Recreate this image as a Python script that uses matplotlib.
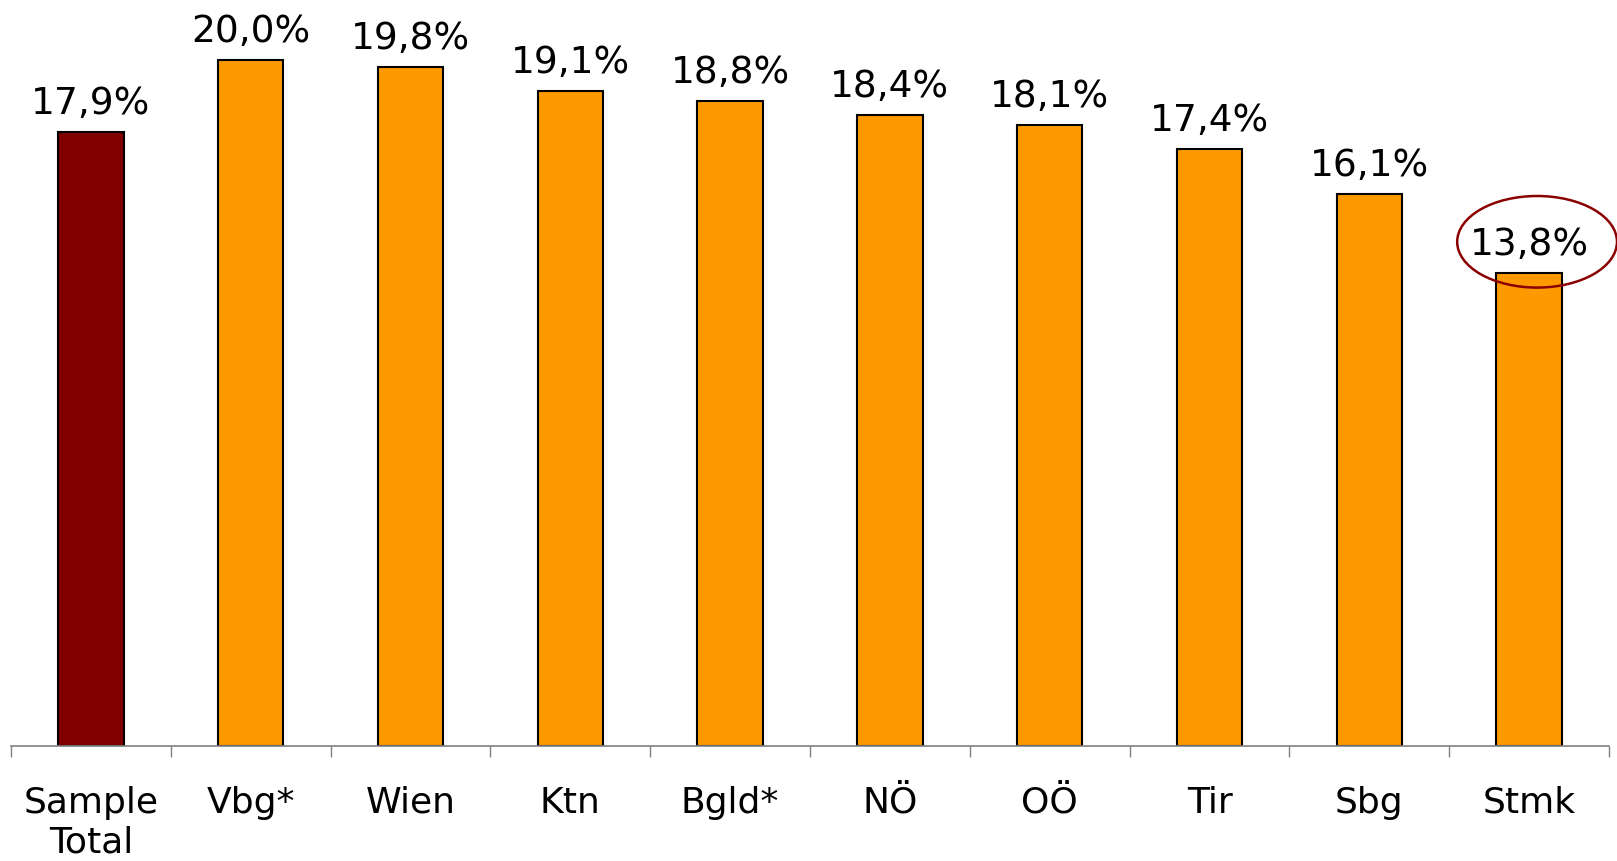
import matplotlib
matplotlib.use("Agg")
import matplotlib.pyplot as plt
from matplotlib.patches import Ellipse

# --- data ---------------------------------------------------------------- #
categories = ["Sample\nTotal", "Vbg*", "Wien", "Ktn", "Bgld*", "NÖ", "OÖ", "Tir", "Sbg", "Stmk"]
values = [17.9, 20.0, 19.8, 19.1, 18.8, 18.4, 18.1, 17.4, 16.1, 13.8]
colors = ["#800000"] + ["#FF9900"] * 9
highlight = "Stmk"

plt.rcParams["font.family"] = ["DejaVu Sans"]

fig = plt.figure(figsize=(16.17, 8.62), dpi=100)
ax = fig.add_axes([11 / 1617, 1 - 747 / 862, 1598 / 1617, 747 / 862])

x = list(range(len(categories)))
ax.bar(x, values, width=0.41, color=colors, edgecolor="black", linewidth=1.5, zorder=2)

for xi, v in zip(x, values):
    ax.annotate(f"{v:.1f}%".replace(".", ","), (xi, v), xytext=(0, 13.5),
                textcoords="offset points", ha="center", va="baseline",
                fontsize=27, color="black")

# circle the highlighted value
hi = categories.index(highlight)
ax.add_patch(Ellipse((hi + 0.05, values[hi] + 0.9), 1.0, 2.67, fill=False,
                     edgecolor="#8B0000", linewidth=1.8, clip_on=False, zorder=3))

ax.set_xlim(-0.5, len(categories) - 0.5)
ax.set_ylim(0, 747 / 34.3)
ax.set_xticks([i - 0.5 for i in range(len(categories) + 1)], minor=False)
ax.set_xticklabels([])
ax.set_xticks(x, minor=True)
ax.set_xticklabels(categories, minor=True, fontsize=26)
ax.tick_params(axis="x", which="major", length=8, width=1, color="#808080")
ax.tick_params(axis="x", which="minor", length=0, pad=28)
ax.set_yticks([])
for s in ("left", "right", "top"):
    ax.spines[s].set_visible(False)
ax.spines["bottom"].set_color("#808080")
ax.spines["bottom"].set_linewidth(1.2)

fig.savefig("out.png", dpi=100)
